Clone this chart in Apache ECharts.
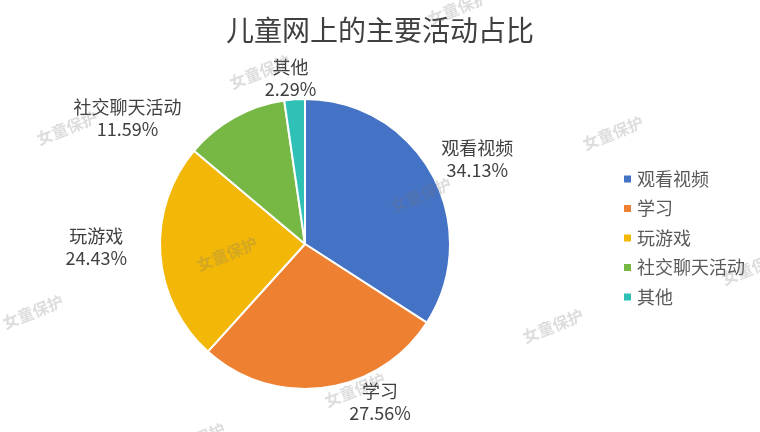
<!DOCTYPE html>
<html>
<head>
<meta charset="utf-8">
<script src="https://cdn.jsdelivr.net/npm/echarts@6/dist/echarts.min.js"></script>
<style>
html,body{margin:0;padding:0;background:#fff;}
#main{width:760px;height:432px;}
</style>
</head>
<body>
<div id="main"></div>
<script>
// ---- data ----
const titleText = '儿童网上的主要活动占比';
const categories = ['观看视频', '学习', '玩游戏', '社交聊天活动', '其他'];
const values = [34.13, 27.56, 24.43, 11.59, 2.29];

// ---- styling ----
const colors = ['#4472C4', '#EE8131', '#F2B707', '#76B843', '#2FC1B5'];
const labelOffsets = [[45, -16], [56, 14], [-64, -7], [-107, 1], [-4, -21]];
const watermarkSpots = [[67,128],[260,72],[458,8],[613,133],[421,195],[227,254],[33,312],[355,390],[553,326],[752,268],[195,440]];
const FONT = '"Noto Sans CJK SC", "Microsoft YaHei", sans-serif';

const chart = echarts.init(document.getElementById('main'), null, {renderer: 'canvas'});

const pieData = categories.map((c, i) => ({name: c, value: values[i]}));

const option = {
  backgroundColor: '#ffffff',
  color: colors,
  animation: false,
  title: {
    text: titleText,
    left: 'center',
    top: 11,
    textStyle: {fontFamily: FONT, fontSize: 28, fontWeight: 'normal', color: '#404040'}
  },
  legend: {
    orient: 'vertical',
    left: 617,
    top: 165,
    icon: 'rect',
    itemWidth: 9,
    itemHeight: 9,
    itemGap: 11.5,
    textStyle: {fontFamily: FONT, fontSize: 18, color: '#595959'},
    data: categories
  },
  series: [{
    type: 'pie',
    center: [305, 244],
    radius: 145,
    startAngle: 90,
    clockwise: true,
    avoidLabelOverlap: false,
    itemStyle: {borderColor: '#ffffff', borderWidth: 2},
    label: {
      show: true,
      position: 'outside',
      distanceToLabelLine: 0,
      formatter: p => p.name + '\n' + p.value.toFixed(2) + '%',
      fontFamily: FONT,
      fontSize: 18,
      lineHeight: 22,
      color: '#404040'
    },
    labelLine: {show: false, length: 0, length2: 0},
    labelLayout: function (p) {
      const o = labelOffsets[p.dataIndex];
      return {align: 'center', verticalAlign: 'middle', dx: o[0], dy: o[1]};
    },
    emphasis: {disabled: true},
    data: pieData
  }],
  graphic: watermarkSpots.map(s => ({
    type: 'text',
    x: s[0],
    y: s[1],
    rotation: 0.38,
    z: 100,
    silent: true,
    style: {
      text: '女童保护',
      fontFamily: FONT,
      fontSize: 16,
      fontWeight: 'bold',
      fill: 'rgba(120,120,120,0.25)',
      align: 'center',
      verticalAlign: 'middle'
    }
  }))
};

chart.setOption(option);
</script>
</body>
</html>
